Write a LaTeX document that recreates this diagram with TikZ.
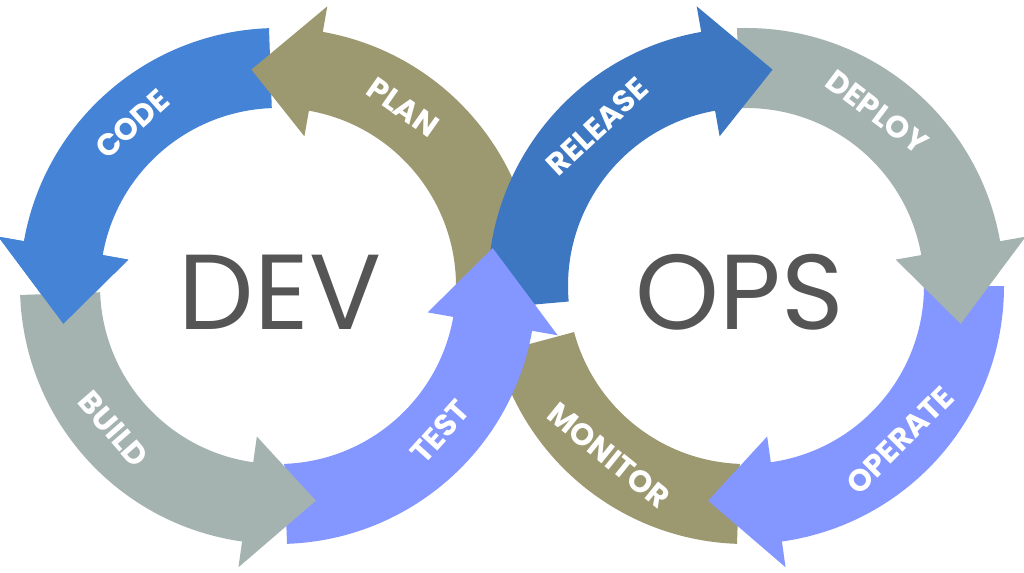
\documentclass[tikz,border=0pt]{standalone}
\usepackage{fontspec}
\setmainfont{Poppins}
\definecolor{cblue}{HTML}{4583D6}
\definecolor{rblue}{HTML}{3D77C2}
\definecolor{olive}{HTML}{9C9870}
\definecolor{sage}{HTML}{A4B3B0}
\definecolor{peri}{HTML}{8496FF}
\definecolor{txt}{HTML}{555555}
\newcommand\segarrow[6]{%
\fill[#6] ([shift={(#1,#2)}]#3:258) arc[start angle=#3,end angle=#4,radius=258] -- ([shift={(#1,#2)}]#4:284) -- ([shift={(#1,#2)}]#5:218) -- ([shift={(#1,#2)}]#4:152) -- ([shift={(#1,#2)}]#4:178) arc[start angle=#4,end angle=#3,radius=178] -- cycle;}
\newcommand\segband[5]{%
\fill[#5] ([shift={(#1,#2)}]#3:258) arc[start angle=#3,end angle=#4,radius=258] -- ([shift={(#1,#2)}]#4:178) arc[start angle=#4,end angle=#3,radius=178] -- cycle;}
\newcommand\seghead[5]{%
\fill[#5] ([shift={(#1,#2)}]#3:284) -- ([shift={(#1,#2)}]#4:218) -- ([shift={(#1,#2)}]#3:152) -- cycle;}
\begin{document}
\begin{tikzpicture}[x=0.75pt,y=0.75pt,
  lab/.style={text=white,font=\bfseries\fontsize{23}{23}\selectfont,inner sep=0pt},
  big/.style={text=txt,font=\fontsize{80}{80}\selectfont,inner sep=0pt}]
\useasboundingbox[fill=white] (0,0) rectangle (1024,572);
\def\lx{278}\def\rx{746}\def\cy{286}
\segarrow{\lx}{\cy}{92}{170}{190}{cblue}
\segarrow{\lx}{\cy}{-5}{80}{97}{olive}
\segband{\rx}{\cy}{268}{195}{olive}
\segarrow{\rx}{\cy}{0}{-82}{-100}{peri}
\segarrow{\rx}{\cy}{92}{10}{-10}{sage}
\segarrow{\rx}{\cy}{185}{100}{83}{rblue}
\segarrow{\lx}{\cy}{272}{350}{370}{peri}
\segarrow{\lx}{\cy}{182}{262}{280}{sage}
\seghead{\lx}{\cy}{170}{190}{cblue}
\node[big] (dev) at (280,280) {DEV};
\node[big] (ops) at (740,280) {OPS};
\node[lab,rotate=42] (code) at ([shift={(\lx,\cy)}]132:218) {CODE};
\node[lab,rotate=-35] (plan) at ([shift={(\lx,\cy)}]55:218) {PLAN};
\node[lab,rotate=-49] (build) at ([shift={(\lx,\cy)}]221:218) {BUILD};
\node[lab,rotate=48] (test) at ([shift={(\lx,\cy)}]-42:218) {TEST};
\node[lab,rotate=43] (release) at ([shift={(\rx,\cy)}]133:218) {RELEASE};
\node[lab,rotate=-37] (deploy) at ([shift={(\rx,\cy)}]53:218) {DEPLOY};
\node[lab,rotate=45] (operate) at ([shift={(\rx,\cy)}]-45:218) {OPERATE};
\node[lab,rotate=-39] (monitor) at ([shift={(\rx,\cy)}]231:218) {MONITOR};
\end{tikzpicture}
\end{document}
